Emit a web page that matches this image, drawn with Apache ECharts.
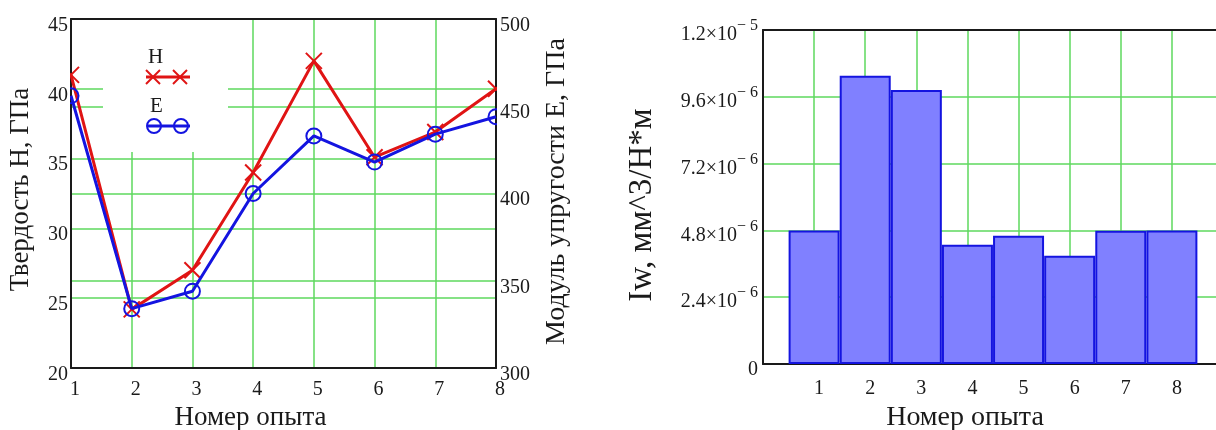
<!DOCTYPE html>
<html>
<head>
<meta charset="utf-8">
<script src="https://cdn.jsdelivr.net/npm/echarts@6/dist/echarts.min.js"></script>
<style>html,body{margin:0;padding:0;background:#fff}#c{width:1216px;height:430px}</style>
</head>
<body>
<div id="c"></div>
<script>
// ---- data ----
const experiments = ['1','2','3','4','5','6','7','8'];
const hardnessH = [41, 24.2, 27, 34, 42, 35.1, 36.9, 40];        // ГПа, left axis
const modulusE = [456, 334, 344, 400, 433, 418, 434, 444];        // ГПа, right axis
const expNumbers = [1, 2, 3, 4, 5, 6, 7, 8];
const wearIw = [4.8e-6, 1.036e-5, 9.84e-6, 4.28e-6, 4.61e-6, 3.89e-6, 4.79e-6, 4.8e-6];
const hTicks = {min: 20, max: 45, interval: 5};
const eTicks = {min: 300, max: 500, interval: 50};
const iwTicks = {min: 0, max: 1.2e-5, interval: 2.4e-6};

const FONT = 'Liberation Serif';
const TXT = '#1a1a1a';
const GREEN = '#5ed85e';
const RED = '#e01414';
const BLUE = '#1414e0';
const BAR_FILL = '#8080ff';

const chart = echarts.init(document.getElementById('c'), null, {renderer: 'canvas'});

const green = {show: true, lineStyle: {color: GREEN, width: 1.5}, showMinLine: false, showMaxLine: false};
const blackLine = {show: true, onZero: false, lineStyle: {color: TXT, width: 2}};
const lbl = (extra) => Object.assign({fontFamily: FONT, fontSize: 20, color: TXT}, extra || {});
// y tick labels sit slightly below their grid line, as in the original
const yLbl = (margin) => ({
  margin: margin, formatter: v => '{a|' + v + '}',
  rich: {a: {fontFamily: FONT, fontSize: 20, color: TXT, padding: [13, 0, 0, 0]}}
});

function sciLabel(v) {
  if (v === 0) return '{z|0}';
  const s = v.toExponential(1);
  const parts = s.split('e');
  const exp = parseInt(parts[1], 10);
  return '{m|' + parts[0] + '×10}{e|− ' + Math.abs(exp) + '}';
}

const option = {
  animation: false,
  backgroundColor: '#fff',
  grid: [
    {left: 71, top: 19, width: 425, height: 349, outerBoundsMode: 'none', containLabel: false},
    {left: 763, top: 30, width: 460, height: 334, outerBoundsMode: 'none', containLabel: false}
  ],
  xAxis: [
    { // left chart bottom
      type: 'category', gridIndex: 0, data: experiments, boundaryGap: false, position: 'bottom',
      axisLine: blackLine, axisTick: {show: false},
      axisLabel: lbl({margin: 12, padding: [0, 0, 0, 8]}),
      splitLine: green,
      name: 'Номер опыта', nameLocation: 'middle', nameGap: 33,
      nameTextStyle: {fontFamily: FONT, fontSize: 27, color: TXT, padding: [0, 66, 0, 0]}
    },
    { // left chart top border
      type: 'category', gridIndex: 0, data: experiments, boundaryGap: false, position: 'top',
      axisLine: blackLine, axisTick: {show: false}, axisLabel: {show: false}, splitLine: {show: false}
    },
    { // right chart bottom
      type: 'value', gridIndex: 1, min: 0, max: 9, interval: 1, position: 'bottom',
      axisLine: blackLine, axisTick: {show: false},
      axisLabel: lbl({margin: 15, padding: [0, 0, 0, 10],
        formatter: v => (v >= 1 && v <= 8) ? String(v) : ''}),
      splitLine: green,
      name: 'Номер опыта', nameLocation: 'middle', nameGap: 40,
      nameTextStyle: {fontFamily: FONT, fontSize: 28, color: TXT, padding: [0, 56, 0, 0]}
    },
    { // right chart top border
      type: 'value', gridIndex: 1, min: 0, max: 9, position: 'top',
      axisLine: blackLine, axisTick: {show: false}, axisLabel: {show: false}, splitLine: {show: false}
    }
  ],
  yAxis: [
    { // 0: H axis (grid lines + line)
      type: 'value', gridIndex: 0, position: 'left', min: hTicks.min, max: hTicks.max, interval: hTicks.interval,
      axisLine: blackLine, axisTick: {show: false}, axisLabel: {show: false},
      splitLine: green
    },
    { // 1: E axis (grid lines + line)
      type: 'value', gridIndex: 0, position: 'right', min: eTicks.min, max: eTicks.max, interval: eTicks.interval,
      axisLine: blackLine, axisTick: {show: false}, axisLabel: {show: false},
      splitLine: green
    },
    { // 2: Iw axis
      type: 'value', gridIndex: 1, position: 'left', min: iwTicks.min, max: iwTicks.max, interval: iwTicks.interval,
      axisLine: blackLine, axisTick: {show: false},
      axisLabel: {margin: 5, formatter: sciLabel,
        rich: {
          m: {fontFamily: FONT, fontSize: 20, color: TXT, padding: [10, 0, 0, 0]},
          e: {fontFamily: FONT, fontSize: 16, color: TXT, padding: [0, 0, 8, 0]},
          z: {fontFamily: FONT, fontSize: 20, color: TXT, padding: [12, 0, 0, 0]}
        }},
      splitLine: green,
      name: 'Iw, мм^3/Н*м', nameLocation: 'middle', nameGap: 104, nameRotate: 90,
      nameTextStyle: {fontFamily: FONT, fontSize: 33, color: TXT, padding: [0, 16, 0, 0]}
    },
    { // 3: H labels on top layer
      type: 'value', gridIndex: 0, position: 'left', min: hTicks.min, max: hTicks.max, interval: hTicks.interval,
      z: 10, axisLine: {show: false}, axisTick: {show: false}, splitLine: {show: false},
      axisLabel: yLbl(3),
      name: 'Твердость H, ГПа', nameLocation: 'middle', nameGap: 37, nameRotate: 90,
      nameTextStyle: {fontFamily: FONT, fontSize: 27, color: TXT, padding: [0, 0, 0, 8]}
    },
    { // 4: E labels on top layer
      type: 'value', gridIndex: 0, position: 'right', min: eTicks.min, max: eTicks.max, interval: eTicks.interval,
      z: 10, axisLine: {show: false}, axisTick: {show: false}, splitLine: {show: false},
      axisLabel: yLbl(4),
      name: 'Модуль упругости E, ГПа', nameLocation: 'middle', nameGap: 47, nameRotate: 90,
      nameTextStyle: {fontFamily: FONT, fontSize: 28, color: TXT, padding: [0, 0, 0, 4]}
    }
  ],
  series: [
    {
      name: 'H', type: 'line', xAxisIndex: 0, yAxisIndex: 0, data: hardnessH,
      lineStyle: {color: RED, width: 3}, symbol: 'path://M0,0L10,10M10,0L0,10', symbolSize: 16,
      itemStyle: {color: RED, borderColor: RED, borderWidth: 2}, z: 3
    },
    {
      name: 'E', type: 'line', xAxisIndex: 0, yAxisIndex: 1, data: modulusE,
      lineStyle: {color: BLUE, width: 3}, symbol: 'circle', symbolSize: 15,
      itemStyle: {color: 'rgba(0,0,0,0)', borderColor: BLUE, borderWidth: 2}, z: 4
    },
    {
      name: 'Iw', type: 'bar', xAxisIndex: 2, yAxisIndex: 2,
      data: expNumbers.map((n, i) => [n, wearIw[i]]),
      barWidth: 51,
      itemStyle: {color: BAR_FILL, borderColor: BLUE, borderWidth: 2}
    }
  ],
  graphic: [
    // markers are clipped at the plot frame in the original: white masks outside the left plot
    {type: 'rect', shape: {x: 40, y: 19, width: 30, height: 349}, style: {fill: '#fff'}, z: 6},
    {type: 'rect', shape: {x: 497, y: 19, width: 40, height: 349}, style: {fill: '#fff'}, z: 6},
    // legend
    {type: 'rect', shape: {x: 103, y: 20, width: 125, height: 132}, style: {fill: '#fff'}, z: 1},
    {type: 'text', x: 148, y: 47, style: {text: 'H', fontFamily: FONT, fontSize: 21, fill: TXT}, z: 2},
    {type: 'line', shape: {x1: 146, y1: 77, x2: 190, y2: 77}, style: {stroke: RED, lineWidth: 3}, z: 2},
    {type: 'polyline', shape: {points: [[146, 70], [160, 84]]}, style: {stroke: RED, lineWidth: 2}, z: 2},
    {type: 'polyline', shape: {points: [[160, 70], [146, 84]]}, style: {stroke: RED, lineWidth: 2}, z: 2},
    {type: 'polyline', shape: {points: [[173, 70], [187, 84]]}, style: {stroke: RED, lineWidth: 2}, z: 2},
    {type: 'polyline', shape: {points: [[187, 70], [173, 84]]}, style: {stroke: RED, lineWidth: 2}, z: 2},
    {type: 'text', x: 150, y: 96, style: {text: 'E', fontFamily: FONT, fontSize: 21, fill: TXT}, z: 2},
    {type: 'line', shape: {x1: 148, y1: 126, x2: 190, y2: 126}, style: {stroke: BLUE, lineWidth: 3}, z: 2},
    {type: 'circle', shape: {cx: 154, cy: 126, r: 7}, style: {stroke: BLUE, fill: 'rgba(0,0,0,0)', lineWidth: 2}, z: 2},
    {type: 'circle', shape: {cx: 181, cy: 126, r: 7}, style: {stroke: BLUE, fill: 'rgba(0,0,0,0)', lineWidth: 2}, z: 2}
  ]
};
chart.setOption(option);
</script>
</body>
</html>
